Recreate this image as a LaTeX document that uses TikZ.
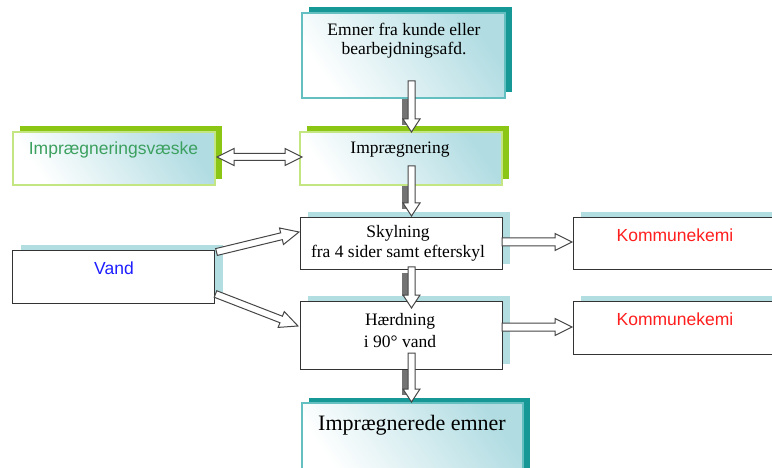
\documentclass[tikz,border=0pt]{standalone}
\usepackage{fontspec}
\setmainfont{Liberation Serif}
\setsansfont{Liberation Sans}
\usetikzlibrary{calc}

\pgfdeclarelayer{arrowshade}
\pgfdeclarelayer{boxshade}
\pgfsetlayers{arrowshade,boxshade,main}

\definecolor{tealdark}{RGB}{22,152,150}
\definecolor{tealline}{RGB}{100,192,192}
\definecolor{tealfill}{RGB}{176,220,226}
\definecolor{greendark}{RGB}{140,198,20}
\definecolor{greenline}{RGB}{196,230,130}
\definecolor{paleteal}{RGB}{178,222,226}
\definecolor{liquidgreen}{RGB}{60,160,95}
\definecolor{waterblue}{RGB}{30,30,255}
\definecolor{wastered}{RGB}{255,30,30}
\definecolor{arrline}{RGB}{70,70,70}
\definecolor{arrshadow}{RGB}{115,115,115}

% direction and length of a connector, stored in \arrang and \arrlen
\newcommand\arrowframe[2]{%
  \path let \p1=#1, \p2=#2 in \pgfextra{%
    \pgfmathsetmacro\arrang{atan2(\y2-\y1,\x2-\x1)}%
    \pgfmathsetmacro\arrlen{veclen(\x2-\x1,\y2-\y1)}%
    \global\let\arrang\arrang\global\let\arrlen\arrlen};}

% hollow block arrow: from, to, shaft half width, head half width, head length
\newcommand\blockarrow[5]{%
  \arrowframe{#1}{#2}%
  \begin{scope}[shift={#1}, rotate=\arrang]
    \draw[blockarr] (0pt,-#3pt) -- ({\arrlen pt-#5pt},-#3pt) -- ({\arrlen pt-#5pt},-#4pt)
      -- (\arrlen pt,0pt) -- ({\arrlen pt-#5pt},#4pt) -- ({\arrlen pt-#5pt},#3pt)
      -- (0pt,#3pt) -- cycle;
  \end{scope}}

% same, with the dark strip cast along the left of the shaft
\newcommand\shadedarrow[5]{%
  \arrowframe{#1}{#2}%
  \begin{pgfonlayer}{arrowshade}
  \begin{scope}[shift={#1}, rotate=\arrang]
    \fill[arrshadow] (6pt,{-#3pt-6pt}) rectangle ({\arrlen pt-#5pt+6pt},{#3pt-6pt});
  \end{scope}
  \end{pgfonlayer}
  \blockarrow{#1}{#2}{#3}{#4}{#5}}

% hollow arrow with a head at both ends
\newcommand\twowayarrow[5]{%
  \arrowframe{#1}{#2}%
  \begin{scope}[shift={#1}, rotate=\arrang]
    \draw[blockarr] (0pt,0pt) -- (#5pt,#4pt) -- (#5pt,#3pt) -- ({\arrlen pt-#5pt},#3pt)
      -- ({\arrlen pt-#5pt},#4pt) -- (\arrlen pt,0pt) -- ({\arrlen pt-#5pt},-#4pt)
      -- ({\arrlen pt-#5pt},-#3pt) -- (#5pt,-#3pt) -- (#5pt,-#4pt) -- cycle;
  \end{scope}}

% box shadow offset up and to the right
\newcommand\boxshadow[4]{%
  \begin{pgfonlayer}{boxshade}
    \fill[#2] ([shift={(#3pt,#4pt)}]#1.south west) rectangle ([shift={(#3pt,#4pt)}]#1.north east);
  \end{pgfonlayer}}

\tikzset{
  plainbox/.style={draw=black!80, line width=0.9pt, fill=white, inner sep=0pt, outer sep=0pt,
    minimum width=#1},
  tealbox/.style={draw=tealline, line width=1.2pt, inner sep=0pt, outer sep=0pt,
    bottom color=white, middle color=white, top color=tealfill, shading angle=-55, minimum width=#1},
  greenbox/.style={draw=greenline, line width=1.2pt, inner sep=0pt, outer sep=0pt,
    bottom color=white, middle color=white, top color=tealfill, shading angle=-55, minimum width=#1},
  label/.style={inner sep=0pt, align=center, font=\fontsize{17.5}{20}\selectfont},
  sanslabel/.style={inner sep=0pt, font=\sffamily\fontsize{17.5}{20}\selectfont},
  blockarr/.style={draw=arrline, line width=1pt, fill=white, line join=miter},
}

\begin{document}
\begin{tikzpicture}[x=1pt,y=-1pt]
\useasboundingbox (0,0) rectangle (772,468);
\clip (0,0) rectangle (772,468);

% boxes
\node[tealbox=203pt, minimum height=85pt] (in) at (403.5,55.5) {};
\node[greenbox=202pt, minimum height=53pt] (imp) at (401,158.5) {};
\node[greenbox=202pt, minimum height=53pt] (liq) at (114,158.5) {};
\node[plainbox=202pt, minimum height=52pt] (rinse) at (401,243) {};
\node[plainbox=202pt, minimum height=53pt] (water) at (113.5,276.5) {};
\node[plainbox=202pt, minimum height=68pt] (cure) at (401,335) {};
\node[plainbox=230pt, minimum height=52pt] (waste1) at (688,243) {};
\node[plainbox=230pt, minimum height=53pt] (waste2) at (688,327.5) {};
\node[tealbox=221pt, minimum height=74pt] (out) at (412.5,440) {};

\boxshadow{in}{tealdark}{7}{6}
\boxshadow{imp}{greendark}{7}{6}
\boxshadow{liq}{greendark}{7}{6}
\boxshadow{rinse}{paleteal}{8}{5}
\boxshadow{water}{paleteal}{8}{5}
\boxshadow{cure}{paleteal}{8}{5}
\boxshadow{waste1}{paleteal}{8}{5}
\boxshadow{waste2}{paleteal}{8}{5}
\boxshadow{out}{tealdark}{7}{5}

% texts
\node[label, font=\fontsize{17.5}{19}\selectfont] (intxt) at (404,41) {Emner fra kunde eller\\bearbejdningsafd.};
\node[label] (imptxt) at (400,150) {Imprægnering};
\node[sanslabel, text=liquidgreen] (liqtxt) at (113.5,150) {Imprægneringsvæske};
\node[label] (rinsetxt) at (398,243) {Skylning\\fra 4 sider samt efterskyl};
\node[sanslabel, text=waterblue] (watertxt) at (114,268) {Vand};
\node[label, font=\fontsize{17.5}{22}\selectfont] (curetxt) at (400,330.5) {Hærdning\\i 90° vand};
\node[sanslabel, text=wastered] (waste1txt) at (675,235) {Kommunekemi};
\node[sanslabel, text=wastered] (waste2txt) at (675,319) {Kommunekemi};
\node[label, font=\fontsize{22}{26}\selectfont] (outtxt) at (412,425) {Imprægnerede emner};

% main flow
\coordinate (axis) at (411.5,0);
\shadedarrow{($(in.south -| axis)+(0,-17)$)}{(imp.north -| axis)}{3.5}{8.5}{13}
\shadedarrow{($(imp.center -| axis)+(0,7.5)$)}{($(rinse.north -| axis)+(0,-1)$)}{3.5}{8.5}{13}
\shadedarrow{($(rinse.south -| axis)+(0,-2)$)}{($(cure.north -| axis)+(0,7)$)}{3.5}{8.5}{13}
\shadedarrow{($(cure.south -| axis)+(0,-16)$)}{($(out.north -| axis)+(0,-1)$)}{3.5}{8.5}{13}

% side connections
\twowayarrow{($(liq.east)+(2,-1.5)$)}{($(imp.west)+(2,-1.5)$)}{3.5}{8.5}{17}
\blockarrow{($(rinse.east)+(0,-1)$)}{($(waste1.west)+(-1,-1)$)}{4}{8.5}{17}
\blockarrow{($(cure.east)+(0,-8)$)}{($(waste2.west)+(-1,-0.5)$)}{4}{8.5}{17}
\blockarrow{($(water.north east)+(2,2)$)}{($(rinse.west)+(-1,-11)$)}{3.5}{8.5}{18}
\blockarrow{($(water.south east)+(1,-9)$)}{($(cure.west)+(-2,-9)$)}{3.5}{8.5}{18}
\end{tikzpicture}
\end{document}
